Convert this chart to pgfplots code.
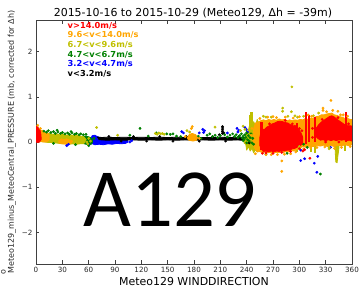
\documentclass[border=0pt]{standalone}
\usepackage{pgfplots}
\pgfplotsset{compat=1.18}
\usepackage{fontspec}
\setmainfont{DejaVu Sans}
\newfontfamily\bigfont{Carlito}
\definecolor{mporange}{rgb}{1,0.647,0}
\definecolor{mpyellow}{rgb}{0.75,0.75,0}
\definecolor{mpgreen}{rgb}{0,0.5,0}
\pgfplotsset{
  poly/.style={draw=#1, fill=#1, line width=0.8bp, line join=round, mark=none},
  pts/.style={only marks, mark=*, mark size=1.2bp, mark options={draw=#1, fill=#1}},
  vline/.style={draw=#1, line width=2.2bp, mark=none},
}
\begin{document}
\begin{tikzpicture}[x=1bp,y=1bp]
\useasboundingbox (0,0) rectangle (360,289);
\clip (0,0) rectangle (360,289);
\begin{axis}[
  at={(36bp,25bp)}, anchor=south west,
  scale only axis, width=316bp, height=244bp,
  xmin=0, xmax=360, ymin=-2.7, ymax=2.7,
  xtick={0,30,...,360},
  xticklabels={0,30,60,90,120,150,180,210,240,270,300,330,360},
  ytick={-2,-1,0,1,2},
  yticklabels={−2,−1,0,1,2},
  tick align=inside,
  major tick length=3.5bp,
  every tick/.style={black!75, line width=0.6bp},
  axis line style={black!75, line width=0.7bp},
  ticklabel style={font=\fontsize{7.2}{8}\selectfont, text=black!85},
  unbounded coords=jump,
]
% ---------- blue (3.2-4.7 m/s) ----------
\addplot[poly=blue] coordinates {(62,0.05)(64,0.14)(67,0.15)(70,0.12)(75,0.08)(80,0.07)(85,0.06)(90,0.06)(95,0.05)(100,0.06)(104,0.04)(105,0.0)(102,-0.03)(97,-0.04)(92,-0.03)(87,-0.05)(82,-0.04)(77,-0.06)(72,-0.05)(67,-0.06)(63,-0.03)(62,0.05)};
\addplot[pts=blue] coordinates {(35,-0.08)(37,-0.05)(60,-0.06)(107,0.0)(109,0.03)(166,0.23)(168,0.2)(186,0.2)(190,0.28)(191,0.21)(192,0.25)(218,0.2)(229,0.3)(230,0.22)(231,0.26)(239.5,0.28)(241,0.22)(238,0.32)
(301.6,-0.18)(301.6,-0.41)(317,-0.47)(321,-0.32)(320,-0.67)(335.6,-0.12)(306,-0.37)};
% ---------- black (<3.2 m/s) ----------
\addplot[poly=black] coordinates {(70,0.11)(75,0.1)(80,0.105)(90,0.1)(100,0.105)(110,0.1)(120,0.105)(130,0.1)(140,0.105)(150,0.1)(160,0.105)(170,0.1)(180,0.09)(190,0.1)(200,0.1)(210,0.105)(220,0.1)(230,0.105)(240,0.1)(245,0.08)(245,0.01)(240,0.03)(230,0.045)(220,0.04)(210,0.045)(200,0.04)(190,0.045)(180,0.04)(170,0.045)(160,0.04)(150,0.045)(140,0.04)(130,0.045)(120,0.04)(110,0.045)(100,0.04)(90,0.045)(80,0.04)(72,0.05)(70,0.11)};
\addplot[pts=black] coordinates {(83,0.12)(97,0.02)(111,0.12)(126,0.02)(141,0.12)(156,0.02)(171,0.12)(186,0.02)(201,0.12)(216,0.02)(231,0.12)(243,-0.02)
(212.5,0.19)(212.5,0.23)(212.5,0.27)(212.5,0.31)(212.5,0.34)(214,0.2)(209,0.16)};
% ---------- green (4.7-6.7 m/s) ----------
\addplot[poly=mpgreen] coordinates {(53,0.08)(56,0.13)(59,0.12)(62,0.1)(64,0.06)(64.5,0.0)(63,-0.05)(59,-0.06)(55,-0.04)(53,0.0)(53,0.08)};
\addplot[pts=mpgreen] coordinates {(9,0.24)(12,0.22)(14,0.25)(17,0.21)(20,0.23)(22,0.19)(25,0.22)(28,0.19)(30,0.21)(33,0.18)(36,0.2)(38,0.17)(41,0.2)(44,0.17)(46,0.19)(49,0.16)(51,0.18)(54,0.16)(57,0.17)(24,0.26)(40,0.23)(20,-0.03)(45,-0.06)(60,-0.08)(66,0.08)
(107,0.15)(118.5,0.3)(128,0.13)(137,0.2)(149,0.18)(153,0.17)(156,0.18)(160,0.13)(165,0.12)(185,0.13)(188,0.08)(195,0.15)(198,0.18)(201,0.12)(204,0.15)(207,0.1)(210,0.14)(215,0.16)(218,0.11)(221,0.15)(224,0.18)(226,0.12)(228,0.16)(230,0.1)(232,0.14)(234,0.18)(235,0.09)(236,0.13)(237,0.06)(238,0.16)(239,0.1)(240,0.2)(241,0.05)(242,0.14)(243,0.02)(244,0.1)(245,0.18)(246,-0.02)(247,0.08)(248,-0.05)(240,-0.02)(236,0.03)
(324,-0.71)(309,-0.12)(305,-0.05)(262,-0.27)(286,-0.25)};
% ---------- yellow (6.7-9.6 m/s) ----------
\addplot[poly=mpyellow] coordinates {(3,0.22)(7,0.23)(11,0.2)(15,0.19)(19,0.17)(23,0.18)(27,0.16)(31,0.17)(35,0.15)(39,0.16)(43,0.14)(47,0.15)(51,0.13)(54,0.12)(56,0.08)(56,0.0)(54,-0.04)(50,-0.04)(46,-0.05)(42,-0.04)(38,-0.05)(34,-0.04)(30,-0.04)(26,-0.03)(22,-0.02)(18,-0.01)(14,-0.01)(10,0.0)(6,0.01)(3,0.0)(3,0.22)};
\addplot[poly=mpyellow] coordinates {(237,0.02)(239,0.15)(240,0.3)(241,0.15)(243,0.35)(244,0.25)(246.5,0.35)(248,0.45)(250,0.35)(252,0.5)(254,0.4)(256,0.45)(258,0.35)(258,-0.1)(256,-0.18)(254,-0.14)(252,-0.22)(250,-0.17)(248,-0.24)(246,-0.14)(244,-0.2)(242,-0.1)(240,-0.18)(239,-0.05)(237,-0.02)(237,0.02)};
\addplot[poly=mpyellow] coordinates {(340.5,0.0)(341,-0.25)(341.5,-0.44)(343,-0.46)(344,-0.3)(345,-0.15)(345.5,0.0)(340.5,0.0)};
\addplot[vline=mpyellow] coordinates {(243.5,0.25)(243.5,0.6)(243.5,nan)(245.5,0.3)(245.5,0.67)(245.5,nan)(280,-0.08)(280,-0.2)(280,nan)(297,-0.05)(297,-0.23)(297,nan)(313,-0.05)(313,-0.22)(313,nan)(318,-0.05)(318,-0.24)(318,nan)(352,-0.04)(352,-0.2)};
\addplot[pts=mpyellow] coordinates {(56,0.05)(58,0.0)(60,0.08)(62,0.02)(59,-0.04)
(69,0.32)(93,0.15)(136,0.19)(138,0.17)(140,0.2)(142,0.18)(144,0.19)(146,0.17)(172,0.25)(175,0.22)(204,0.33)(236,0.35)(233,0.25)(238,0.28)
(259,0.57)(262,0.55)(281,0.75)(281,0.68)(291.5,1.22)(291,0.67)(295,0.58)(298,0.55)(316,0.58)(334,-0.12)(334,-0.15)(300,-0.1)(268,0.55)(287,0.57)(305,0.57)(322,0.64)};
% ---------- orange (9.6-14 m/s) ----------
\addplot[poly=mporange] coordinates {(4,0.02)(4,0.25)(7,0.26)(10,0.22)(13,0.2)(15,0.15)(15,0.05)(12,0.0)(8,0.0)(4,0.02)};
\addplot[poly=mporange] coordinates {(26,0.03)(29,0.07)(32,0.05)(35,0.07)(39,0.04)(42,0.02)(40,-0.03)(35,-0.05)(30,-0.04)(26,-0.02)(26,0.03)};
\addplot[poly=mporange] coordinates {(172,0.1)(175,0.17)(178,0.19)(182,0.16)(184,0.1)(183,0.04)(179,0.02)(174,0.04)(172,0.1)};
\addplot[poly=mporange] coordinates {(247,0.05)(248,0.3)(250,0.42)(253,0.44)(256,0.47)(259,0.49)(262,0.47)(265,0.5)(268,0.48)(271,0.5)(274,0.48)(277,0.51)(280,0.49)(283,0.5)(286,0.47)(289,0.49)(292,0.47)(295,0.49)(298,0.48)(301,0.5)(304,0.49)(307,0.52)(310,0.5)(313,0.53)(316,0.53)(319,0.56)(322,0.57)(325,0.6)(328,0.6)(331,0.62)(334,0.63)(337,0.64)(340,0.6)(343,0.59)(346,0.56)(349,0.55)(352,0.52)(355,0.52)(358,0.5)(360,0.5)
(360,-0.06)(356,-0.08)(352,-0.06)(348,-0.09)(344,-0.07)(340,-0.1)(336,-0.08)(332,-0.1)(328,-0.07)(324,-0.09)(320,-0.08)(316,-0.1)(312,-0.09)(308,-0.12)(304,-0.1)(300,-0.14)(297,-0.17)(294,-0.2)(291,-0.19)(288,-0.22)(285,-0.21)(282,-0.23)(279,-0.22)(276,-0.24)(273,-0.23)(270,-0.25)(267,-0.23)(264,-0.24)(261,-0.22)(258,-0.24)(255,-0.21)(252,-0.22)(249,-0.13)(247,-0.05)(247,0.05)};
\addplot[pts=mporange] coordinates {(2,0.37)(5,0.3)(177,0.3)(178,0.34)(170,0.12)(186,0.08)
(280,-0.42)(280,-0.65)(336,0.92)(327,0.7)(327,0.75)(344,0.68)(338,0.7)(264,0.55)(270,0.56)(300,0.56)(310,0.6)(350,0.6)(355,0.57)(245,0.15)(246,0.3)(250,-0.26)(262,-0.28)(275,-0.28)(290,-0.26)(305,-0.15)(320,-0.12)(340,-0.14)(358,-0.1)
(255,0.52)(274,0.54)(284,0.55)(293,0.53)(314,0.57)(331,0.67)(347,0.6)(268,-0.28)(283,-0.27)(296,-0.22)(313,-0.13)(329,-0.11)(348,-0.12)};
% ---------- red (>14 m/s) ----------
\addplot[poly=red] coordinates {(0,0.0)(0,0.34)(1.5,0.36)(3,0.3)(4.5,0.27)(5.5,0.18)(6,0.06)(4,0.0)(2,-0.01)(0,0.0)};
\addplot[poly=red] coordinates {(255,0.1)(257,0.3)(260,0.27)(263,0.33)(266,0.36)(269,0.4)(272,0.42)(275,0.45)(278,0.46)(281,0.45)(284,0.43)(287,0.42)(290,0.38)(293,0.36)(296,0.33)(299,0.28)(302,0.2)(304,0.1)
(304,-0.03)(301,-0.08)(298,-0.11)(295,-0.14)(292,-0.15)(289,-0.18)(286,-0.18)(283,-0.2)(280,-0.19)(277,-0.21)(274,-0.2)(271,-0.22)(268,-0.2)(265,-0.22)(262,-0.2)(259,-0.21)(257,-0.16)(255,-0.08)(255,0.1)};
\addplot[poly=red] coordinates {(319,0.3)(322,0.38)(325,0.44)(328,0.48)(331,0.52)(334,0.56)(337,0.58)(340,0.55)(343,0.5)(346,0.46)(349,0.42)(352,0.38)(355,0.36)(358,0.36)(360,0.35)
(360,0.02)(357,0.04)(354,0.03)(351,0.05)(348,0.04)(345,0.05)(342,0.03)(339,0.05)(336,0.03)(333,0.05)(330,0.03)(327,0.05)(324,0.04)(321,0.08)(319,0.12)(319,0.3)};
\addplot[vline=red] coordinates {(257,-0.18)(257,0.45)(257,nan)(297,-0.05)(297,0.42)(297,nan)(308,-0.05)(308,0.67)(308,nan)(311,0.0)(311,0.6)(311,nan)(318,0.0)(318,0.55)(318,nan)(353,0.0)(353,0.67)};
\addplot[pts=red] coordinates {(304,-0.2)(312,-0.36)(306,-0.17)(258,-0.25)(262,-0.24)(300,-0.15)(295,0.35)(315,0.3)(315,0.1)(300,0.3)(303,0.25)
(266,0.4)(284,0.48)(292,0.4)(270,-0.25)(280,-0.23)(290,-0.21)(326,0.5)(344,0.54)(356,0.4)(330,0.0)(345,0.0)};
\end{axis}
% ---------- texts ----------
\node[anchor=base, font=\fontsize{11}{13}\selectfont] at (193,272.5) {2015-10-16 to 2015-10-29 (Meteo129, Δh = -39m)};
\node[anchor=base, font=\fontsize{11}{13}\selectfont] at (194,4) {Meteo129 WINDDIRECTION};
\node[rotate=90, font=\fontsize{8}{9}\selectfont, text=black!85] at (11.7,147) {Meteo129\_minus\_MeteoCentral\_PRESSURE (mb, corrected for Δh)};
\node[rotate=90, font=\fontsize{8}{9}\selectfont, text=black!85] at (3.5,17) {o};
\begin{scope}[every node/.style={anchor=west, inner sep=0pt, font=\fontsize{8.3}{9}\selectfont\bfseries}]
\node[text=red] at (67.5,263.5) {v>14.0m/s};
\node[text=mporange] at (67.5,253.8) {9.6<v<14.0m/s};
\node[text=mpyellow] at (67.5,244.1) {6.7<v<9.6m/s};
\node[text=mpgreen] at (67.5,234.4) {4.7<v<6.7m/s};
\node[text=blue] at (67.5,224.7) {3.2<v<4.7m/s};
\node[text=black] at (67.5,215.0) {v<3.2m/s};
\end{scope}
\node[anchor=base, font=\bigfont\fontsize{83}{90}\selectfont] at (170,63) {A129};
\end{tikzpicture}
\end{document}
